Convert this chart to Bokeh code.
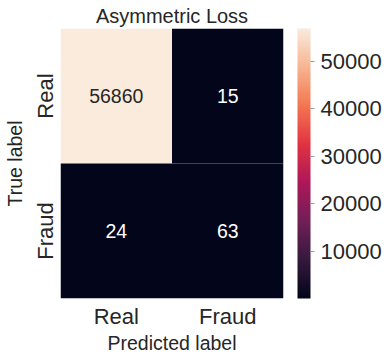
from bokeh.plotting import figure
from bokeh.models import ColumnDataSource, LinearColorMapper, ColorBar, FixedTicker
from bokeh.embed import file_html
from bokeh.resources import INLINE
from bokeh.core.properties import value

# ---- data ----
pred_labels = ["Real", "Fraud"]
true_labels = ["Real", "Fraud"]
cell_pred = ["Real", "Fraud", "Real", "Fraud"]
cell_true = ["Real", "Real", "Fraud", "Fraud"]
counts = [56860, 15, 24, 63]
cbar_ticks = [10000, 20000, 30000, 40000, 50000]
title_text = "Asymmetric Loss"

# ---- rocket-like palette (style) ----
keys = ["#03051a", "#35193e", "#701f57", "#ad1759", "#e13342", "#f37651", "#f6b48f", "#faebdd"]
def hex2rgb(h):
    return tuple(int(h[i:i + 2], 16) for i in (1, 3, 5))
krgb = [hex2rgb(k) for k in keys]
palette = []
n = 256
for i in range(n):
    t = i / (n - 1) * (len(keys) - 1)
    j = min(int(t), len(keys) - 2)
    f = t - j
    a, b = krgb[j], krgb[j + 1]
    c = tuple(round(a[m] + (b[m] - a[m]) * f) for m in range(3))
    palette.append("#%02x%02x%02x" % c)

vmin, vmax = min(counts), max(counts)
mapper = LinearColorMapper(palette=palette, low=vmin, high=vmax)

text_colors = ["#262626" if (v - vmin) / (vmax - vmin) > 0.5 else "white" for v in counts]
labels = [str(v) for v in counts]

src = ColumnDataSource(dict(x=cell_pred, y=cell_true, v=counts, t=labels, tc=text_colors))

FONT = "Liberation Sans"

p = figure(width=387, height=359, x_range=pred_labels, y_range=list(reversed(true_labels)),
           output_backend="svg", toolbar_location=None, title=title_text,
           min_border_left=60, min_border_right=104, min_border_top=28, min_border_bottom=61)

p.rect(x="x", y="y", width=1, height=1, source=src,
       fill_color={"field": "v", "transform": mapper}, line_color=None)
p.text(x="x", y="y", text="t", source=src, text_color="tc",
       text_align="center", text_baseline="middle",
       text_font=value(FONT), text_font_size="19.5px")

p.title.align = "center"
p.title.text_font = FONT
p.title.text_font_size = "20px"
p.title.text_font_style = "normal"
p.title.text_color = "#262626"
p.title.offset = 0
p.title.standoff = 4

p.outline_line_color = None
p.grid.grid_line_color = None
p.background_fill_color = "white"

for ax in (p.xaxis, p.yaxis):
    ax.axis_line_color = None
    ax.major_tick_line_color = None
    ax.minor_tick_line_color = None
    ax.major_tick_out = 0
    ax.major_tick_in = 0
    ax.major_label_text_font = FONT
    ax.major_label_text_font_size = "22px"
    ax.major_label_text_color = "#262626"
    ax.axis_label_text_font = FONT
    ax.axis_label_text_font_size = "19.5px"
    ax.axis_label_text_font_style = "normal"
    ax.axis_label_text_color = "#262626"

p.xaxis.axis_label = "Predicted label"
p.yaxis.axis_label = "True label"
p.yaxis.major_label_orientation = "vertical"
p.xaxis.major_label_standoff = 5
p.xaxis.axis_label_standoff = 0
p.yaxis.major_label_standoff = 3
p.yaxis.axis_label_standoff = 4

cb = ColorBar(color_mapper=mapper, ticker=FixedTicker(ticks=cbar_ticks),
              width=13, height=270, padding=0, margin=0, location=(14, 0),
              major_label_text_font=FONT, major_label_text_font_size="22px",
              major_label_text_color="#262626", label_standoff=6,
              major_tick_out=4, major_tick_in=0, major_tick_line_color="#999999",
              minor_tick_line_color=None, bar_line_color=None,
              border_line_color=None, background_fill_color=None)
p.add_layout(cb, "right")

open("out.html", "w").write(file_html(p, INLINE))
